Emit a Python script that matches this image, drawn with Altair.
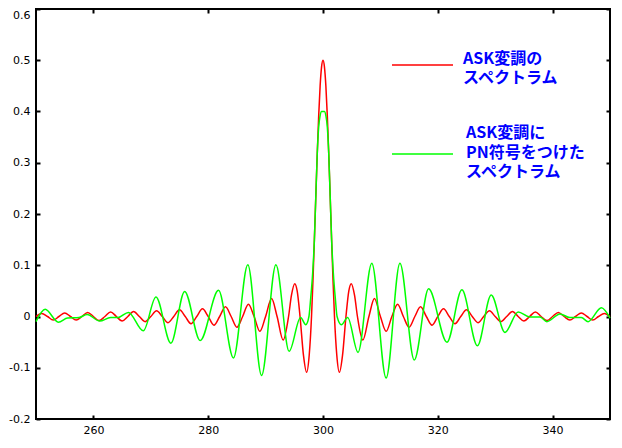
import altair as alt
import pandas as pd

# ---- data ----
red_x = [250, 251, 252, 253, 254, 255, 256, 257, 258, 259, 260, 261, 262, 263, 264, 265,
         266, 267, 268, 269, 270, 271, 272, 273, 274, 275, 276, 277, 278, 279, 280, 281,
         282, 283, 284, 285, 286, 287, 288, 289, 290, 291.04, 292, 293.06, 294, 294.5,
         295.08, 295.5, 296, 296.6, 297.14, 297.6, 298, 298.25, 298.5, 298.75, 299,
         299.25, 299.5, 299.75, 300, 300.25, 300.5, 300.75, 301, 301.25, 301.5, 301.75,
         302, 302.4, 302.86, 303.4, 304, 304.5, 304.92, 305.5, 306, 306.94, 308, 308.96,
         310, 311, 312, 313, 314, 315, 316, 317, 318, 319, 320, 321, 322, 323, 324, 325,
         326, 327, 328, 329, 330, 331, 332, 333, 334, 335, 336, 337, 338, 339, 340, 341,
         342, 343, 344, 345, 346, 347, 348, 349, 350]
red_y = [0, 0.006, 0, -0.007, 0, 0.007, 0, -0.007, 0, 0.008, 0, -0.008, 0, 0.009, 0, -0.009,
         0, 0.010, 0, -0.010, 0, 0.011, 0, -0.012, 0, 0.013, 0, -0.014, 0, 0.015, 0, -0.017,
         0, 0.019, 0, -0.021, 0, 0.024, 0, -0.029, 0, 0.035, 0, -0.046, 0, 0.041,
         0.064, 0.050, 0, -0.076, -0.109, -0.075, 0, 0.070, 0.150, 0.235, 0.318,
         0.392, 0.450, 0.487, 0.500, 0.487, 0.450, 0.392, 0.318, 0.235, 0.150, 0.070,
         0, -0.075, -0.109, -0.076, 0, 0.050, 0.064, 0.041, 0, -0.046, 0, 0.035,
         0, -0.029, 0, 0.024, 0, -0.021, 0, 0.019, 0, -0.017, 0, 0.015, 0, -0.014, 0, 0.013,
         0, -0.012, 0, 0.011, 0, -0.010, 0, 0.010, 0, -0.009, 0, 0.009, 0, -0.008, 0, 0.008,
         0, -0.007, 0, 0.007, 0, -0.007, 0, 0.006, 0]

green_x = [250.0, 251.6, 253.9, 255.5, 257.5, 258.9, 261.1, 263.0, 264.3, 266.1, 268.7,
           270.9, 273.5, 275.9, 278.6, 281.8, 284.4, 286.9, 289.3, 291.8, 294.1, 296.1,
           297.0, 297.55, 297.85, 298.2, 298.5, 298.75, 299.0, 299.25, 299.5, 299.75,
           300.0, 300.25, 300.5, 300.75, 301.0, 301.25, 301.5, 301.8, 302.15, 302.45,
           303.2, 304.3, 306.1, 308.5, 311.0, 313.4, 315.9, 318.4, 321.6, 324.2, 326.9,
           329.3, 331.7, 334.0, 336.0, 337.8, 339.0, 341.3, 343.0, 345.0, 346.2, 348.5, 350.0]
green_y = [-0.010, 0.014, -0.011, -0.003, -0.002, 0.004, -0.009, -0.002, -0.002, 0.008, -0.028,
           0.038, -0.052, 0.049, -0.047, 0.051, -0.081, 0.101, -0.115, 0.101, -0.068, -0.002,
           -0.016, 0.000, 0.035, 0.085, 0.150, 0.235, 0.318, 0.370, 0.392, 0.400,
           0.400, 0.400, 0.392, 0.370, 0.318, 0.235, 0.150, 0.085, 0.035, 0.000,
           -0.016, -0.002, -0.070, 0.104, -0.120, 0.104, -0.085, 0.054, -0.050, 0.052, -0.057,
           0.042, -0.031, 0.009, -0.001, -0.001, -0.010, 0.005, -0.002, -0.002, -0.010, 0.017, -0.003]

series_names = ["ASK変調のスペクトラム", "ASK変調にPN符号をつけたスペクトラム"]
legend_text_red = "ASK変調の\nスペクトラム"
legend_text_green = "ASK変調に\nPN符号をつけた\nスペクトラム"
x_ticks = [260, 280, 300, 320, 340]
y_ticks = [-0.2, -0.1, 0, 0.1, 0.2, 0.3, 0.4, 0.5, 0.6]
x_domain = [250, 350]
y_domain = [-0.2, 0.6]

red_df = pd.DataFrame({"x": red_x, "y": red_y, "series": series_names[0]})
green_df = pd.DataFrame({"x": green_x, "y": green_y, "series": series_names[1]})
leg_red_df = pd.DataFrame({"series": [series_names[0]], "label": [legend_text_red]})
leg_green_df = pd.DataFrame({"series": [series_names[1]], "label": [legend_text_green]})

LABEL_FONT = "DejaVu Sans"
xs = alt.Scale(domain=x_domain, nice=False, zero=False)
ys = alt.Scale(domain=y_domain, nice=False, zero=False)

common_axis = dict(offset=-4, tickSize=4, tickWidth=2, tickColor="black", domain=False,
                   grid=False, title=None, labelFont=LABEL_FONT, labelFontSize=11,
                   labelColor="black")

bottom_axis = alt.Axis(orient="bottom", values=x_ticks, labelPadding=5, format="d", **common_axis)
left_axis = alt.Axis(orient="left", values=y_ticks, labelPadding=6,
                     labelExpr="datum.value == 0 ? '0' : toString(round(datum.value * 10) / 10)",
                     labelBaseline={"condition": {"test": "datum.value > 0.55", "value": "top"},
                                    "value": "middle"},
                     **common_axis)
top_axis = alt.Axis(orient="top", values=x_ticks, labels=False, **common_axis)
right_axis = alt.Axis(orient="right", values=y_ticks, labels=False, **common_axis)

red = alt.Chart(red_df).mark_line(color="#ff0000", strokeWidth=1.5, interpolate="monotone").encode(
    x=alt.X("x:Q", scale=xs, axis=bottom_axis),
    y=alt.Y("y:Q", scale=ys, axis=left_axis),
)
green = alt.Chart(green_df).mark_line(color="#00ff00", strokeWidth=1.5, interpolate="monotone").encode(
    x=alt.X("x:Q", scale=xs, axis=None),
    y=alt.Y("y:Q", scale=ys, axis=None),
)
frame_ticks = alt.Chart(red_df).mark_line(opacity=0).encode(
    x=alt.X("x:Q", scale=xs, axis=top_axis),
    y=alt.Y("y:Q", scale=ys, axis=right_axis),
)

leg_red_line = alt.Chart(leg_red_df).mark_rule(color="#ff0000", strokeWidth=1.5).encode(
    x=alt.value(356), x2=alt.value(417), y=alt.value(56))
leg_green_line = alt.Chart(leg_green_df).mark_rule(color="#00ff00", strokeWidth=1.5).encode(
    x=alt.value(356), x2=alt.value(417), y=alt.value(145))

text_style = dict(align="left", baseline="middle", lineBreak="\n", font="Noto Sans CJK JP",
                  fontSize=16, fontWeight="bold", color="#0000ff")
leg_red_text = alt.Chart(leg_red_df).mark_text(lineHeight=19, **text_style).encode(
    text="label:N", x=alt.value(427), y=alt.value(50))
leg_green_text = alt.Chart(leg_green_df).mark_text(lineHeight=19.5, **text_style).encode(
    text="label:N", x=alt.value(430), y=alt.value(124))

chart = alt.layer(
    red, green, frame_ticks, leg_red_line, leg_green_line, leg_red_text, leg_green_text
).resolve_scale(x="independent", y="independent").properties(
    width=574, height=410,
    autosize=alt.AutoSizeParams(type="none"),
    padding={"left": 28, "top": 1, "right": 4, "bottom": 24},
    background="white",
).configure_view(stroke="black", strokeWidth=2)

chart.save("out.html", embed_options={"renderer": "svg", "actions": False})
